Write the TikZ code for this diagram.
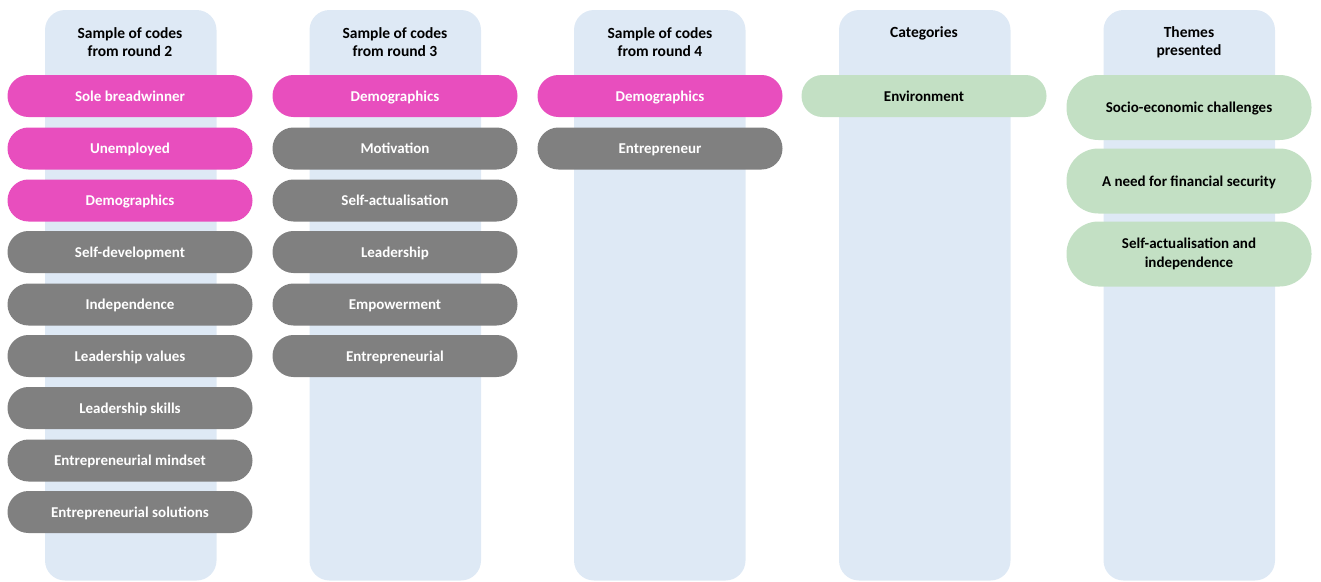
\documentclass[tikz,border=0pt]{standalone}
\usepackage{fontspec}
\setmainfont{Carlito}
\definecolor{colbg}{RGB}{222,233,245}
\definecolor{pinkcode}{RGB}{232,78,190}
\definecolor{graycode}{RGB}{128,128,128}
\definecolor{greencode}{RGB}{195,224,196}
\tikzset{
  colbox/.style={fill=colbg, rounded corners=20pt},
  head/.style={font=\bfseries\fontsize{15.5}{18}\selectfont, align=center, text=black},
  pill/.style={minimum width=245pt, minimum height=42pt, rounded corners=20.9pt,
    font=\bfseries\fontsize{15}{19}\selectfont, align=center, inner sep=0pt,
    text height=10.5pt, text depth=0pt},
  pinkpill/.style={pill, fill=pinkcode, text=white},
  graypill/.style={pill, fill=graycode, text=white},
  greenpill/.style={pill, fill=greencode, text=black},
  themepill/.style={greenpill, minimum height=65pt, rounded corners=32pt},
  twoline/.style={text height={}, text depth={}},
}
\begin{document}
\begin{tikzpicture}[x=1pt,y=-1pt]
\useasboundingbox (0,0) rectangle (1321,581);
% column backgrounds
\foreach \xl in {45,309.5,574,839,1103.5}
  \fill[colbox] (\xl,10) rectangle ++(171.5,570.5);
% headers
\node[head] (h1) at (130,42.5) {Sample of codes\\from round 2};
\node[head] (h2) at (395,42.5) {Sample of codes\\from round 3};
\node[head] (h3) at (660,42.5) {Sample of codes\\from round 4};
\node[head] (h4) at (924,33.5) {Categories};
\node[head] (h5) at (1189,42.5) {Themes\\presented};
% codes from round 2
\node[pinkpill] (a1) at (130,96) {Sole breadwinner};
\node[pinkpill] (a2) at (130,148.5) {Unemployed};
\node[pinkpill] (a3) at (130,200.5) {Demographics};
\node[graypill] (a4) at (130,252) {Self-development};
\node[graypill] (a5) at (130,304.5) {Independence};
\node[graypill] (a6) at (130,356) {Leadership values};
\node[graypill] (a7) at (130,408) {Leadership skills};
\node[graypill] (a8) at (130,460.5) {Entrepreneurial mindset};
\node[graypill] (a9) at (130,512) {Entrepreneurial solutions};
% codes from round 3
\node[pinkpill] (b1) at (395,96) {Demographics};
\node[graypill] (b2) at (395,148.5) {Motivation};
\node[graypill] (b3) at (395,200.5) {Self-actualisation};
\node[graypill] (b4) at (395,252) {Leadership};
\node[graypill] (b5) at (395,304.5) {Empowerment};
\node[graypill] (b6) at (395,356) {Entrepreneurial};
% codes from round 4
\node[pinkpill] (c1) at (660,96) {Demographics};
\node[graypill] (c2) at (660,148.5) {Entrepreneur};
% categories
\node[greenpill] (d1) at (924,96) {Environment};
% themes
\node[themepill] (e1) at (1189,107.5) {Socio-economic challenges};
\node[themepill] (e2) at (1189,181) {A need for financial security};
\node[themepill, twoline] (e3) at (1189,254) {Self-actualisation and\\independence};
\end{tikzpicture}
\end{document}
